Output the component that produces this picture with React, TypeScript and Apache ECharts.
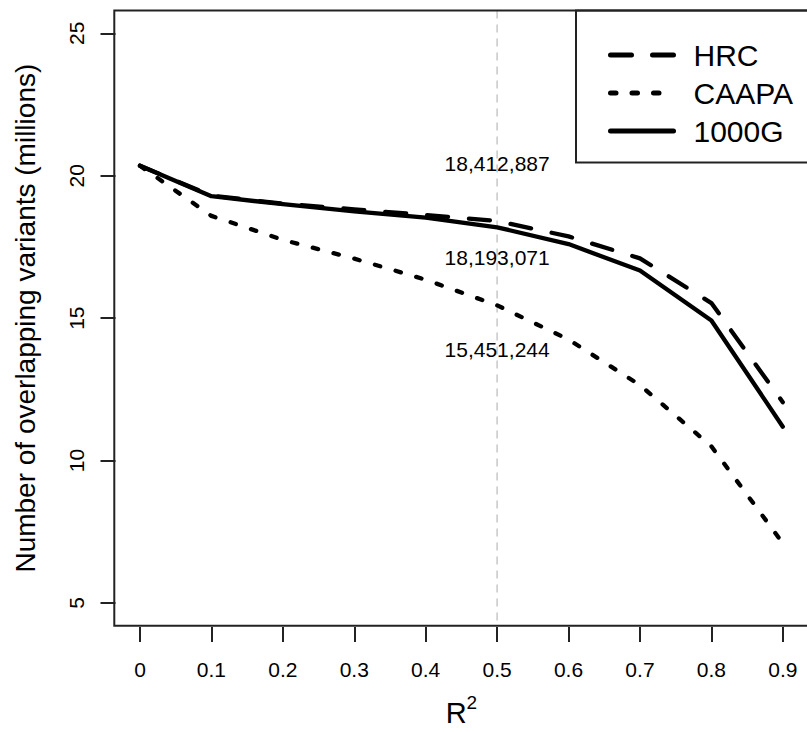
import React, { useEffect, useRef } from "react";
import * as echarts from "echarts";

const R2_VALUES = [0, 0.1, 0.2, 0.3, 0.4, 0.5, 0.6, 0.7, 0.8, 0.9];
const HRC = [20.35, 19.3, 19.02, 18.82, 18.62, 18.41, 17.87, 17.1, 15.53, 12.05];
const CAAPA = [20.35, 18.59, 17.75, 17.09, 16.35, 15.45, 14.25, 12.65, 10.5, 7.1];
const G1000 = [20.35, 19.28, 19.0, 18.75, 18.53, 18.19, 17.6, 16.67, 14.92, 11.19];
const SERIES_NAMES = ["HRC", "CAAPA", "1000G"];
const Y_TICKS = [5, 10, 15, 20, 25];
const ANNOT_X = 0.5;
const ANNOT_Y = [20.42, 17.12, 13.9];
const ANNOT_TEXT = ["18,412,887", "18,193,071", "15,451,244"];

const FONT = "'Liberation Sans', Arial, Helvetica, sans-serif";

export default function App() {
  const ref = useRef<HTMLDivElement>(null);
  useEffect(() => {
    if (!ref.current) return;
    const chart = echarts.init(ref.current, undefined, { renderer: "svg" });
    const pair = (arr: number[]) => R2_VALUES.map((x, i) => [x, arr[i]]);
    const yMin = Y_TICKS[0];
    const yMax = Y_TICKS[Y_TICKS.length - 1];
    const xMin = R2_VALUES[0];
    const xMax = R2_VALUES[R2_VALUES.length - 1];
    const option: any = {
      animation: false,
      backgroundColor: "#ffffff",
      textStyle: { fontFamily: FONT },
      grid: { left: 140, right: 24.2, top: 33.3, bottom: 126.3, containLabel: false },
      xAxis: {
        type: "value",
        min: xMin,
        max: xMax,
        interval: 0.1,
        offset: 24,
        axisLine: { show: false, onZero: false },
        axisTick: { show: true, length: 15, lineStyle: { color: "#222", width: 2 } },
        axisLabel: {
          fontSize: 21,
          color: "#000",
          margin: 32,
          fontFamily: FONT,
          formatter: (v: number) => String(Math.round(v * 10) / 10),
        },
        splitLine: { show: false },
        name: "{r|R}{s|2}",
        nameLocation: "middle",
        nameGap: 66,
        nameTextStyle: {
          fontFamily: FONT,
          rich: {
            r: { fontSize: 29, color: "#000", fontFamily: FONT, verticalAlign: "bottom", lineHeight: 34 },
            s: { fontSize: 19, color: "#000", fontFamily: FONT, verticalAlign: "top", lineHeight: 20 },
          },
        },
      },
      yAxis: {
        type: "value",
        min: yMin,
        max: yMax,
        interval: 5,
        offset: 24.5,
        axisLine: { show: false, onZero: false },
        axisTick: { show: true, length: 15, lineStyle: { color: "#222", width: 2 } },
        axisLabel: { fontSize: 21, color: "#000", rotate: 90, margin: 29, fontFamily: FONT },
        splitLine: { show: false },
        name: "Number of overlapping variants (millions)",
        nameLocation: "middle",
        nameRotate: 90,
        nameGap: 76,
        nameTextStyle: { fontSize: 28, color: "#000", fontFamily: FONT },
      },
      legend: {
        show: true,
        orient: "vertical",
        left: 603,
        top: 34,
        itemWidth: 63,
        itemHeight: 14,
        itemGap: 6,
        data: SERIES_NAMES,
        itemStyle: { opacity: 0 },
        lineStyle: { width: 5, color: "#000", cap: "round" },
        textStyle: { fontSize: 30, color: "#000", lineHeight: 32, padding: [0, 0, 0, 15], fontFamily: FONT },
      },
      series: [
        {
          name: SERIES_NAMES[0],
          type: "line",
          data: pair(HRC),
          symbol: "none",
          z: 3,
          itemStyle: { color: "#000" },
          lineStyle: { color: "#000", width: 4.3, type: [21, 21], cap: "round", join: "round" },
        },
        {
          name: SERIES_NAMES[1],
          type: "line",
          data: pair(CAAPA),
          symbol: "none",
          z: 3,
          itemStyle: { color: "#000" },
          lineStyle: { color: "#000", width: 4.3, type: [5.5, 16], cap: "round", join: "round" },
        },
        {
          name: SERIES_NAMES[2],
          type: "line",
          data: pair(G1000),
          symbol: "none",
          z: 3,
          itemStyle: { color: "#000" },
          lineStyle: { color: "#000", width: 4.3, type: "solid", cap: "round", join: "round" },
        },
        {
          name: "annotations",
          type: "scatter",
          data: ANNOT_Y.map((y, i) => ({ value: [ANNOT_X, y], name: ANNOT_TEXT[i] })),
          symbolSize: 0,
          z: 4,
          itemStyle: { opacity: 1, color: "#000" },
          label: {
            show: true,
            position: "inside",
            formatter: (p: any) => p.name,
            fontSize: 21,
            color: "#000",
            opacity: 1,
            textBorderWidth: 0,
            fontFamily: FONT,
          },
          emphasis: { disabled: true },
          silent: true,
        },
      ],
    };
    chart.setOption(option);

    // R-style plot region: data range extended by 4% on every side
    const xPad = (xMax - xMin) * 0.04;
    const yPad = (yMax - yMin) * 0.04;
    const tl = chart.convertToPixel({ gridIndex: 0 }, [xMin - xPad, yMax + yPad]) as number[];
    const br = chart.convertToPixel({ gridIndex: 0 }, [xMax + xPad, yMin - yPad]) as number[];
    const vx = chart.convertToPixel({ xAxisIndex: 0 }, ANNOT_X) as number;
    chart.setOption({
      graphic: [
        {
          type: "line",
          z: 1,
          silent: true,
          shape: { x1: vx, y1: tl[1], x2: vx, y2: br[1] },
          style: { stroke: "#c8c8c8", lineWidth: 1.5, lineDash: [8, 6] },
        },
        {
          type: "rect",
          z: 10,
          silent: true,
          shape: { x: tl[0], y: tl[1], width: br[0] - tl[0], height: br[1] - tl[1] },
          style: { fill: "none", stroke: "#222", lineWidth: 2 },
        },
        {
          type: "rect",
          z: 10,
          silent: true,
          shape: { x: 576, y: tl[1], width: br[0] - 576, height: 152 },
          style: { fill: "none", stroke: "#222", lineWidth: 2 },
        },
      ],
    });
    return () => chart.dispose();
  }, []);
  return (
    <div
      ref={ref}
      style={{ position: "absolute", left: 0, top: 0, width: 807, height: 732, background: "#fff" }}
    />
  );
}
